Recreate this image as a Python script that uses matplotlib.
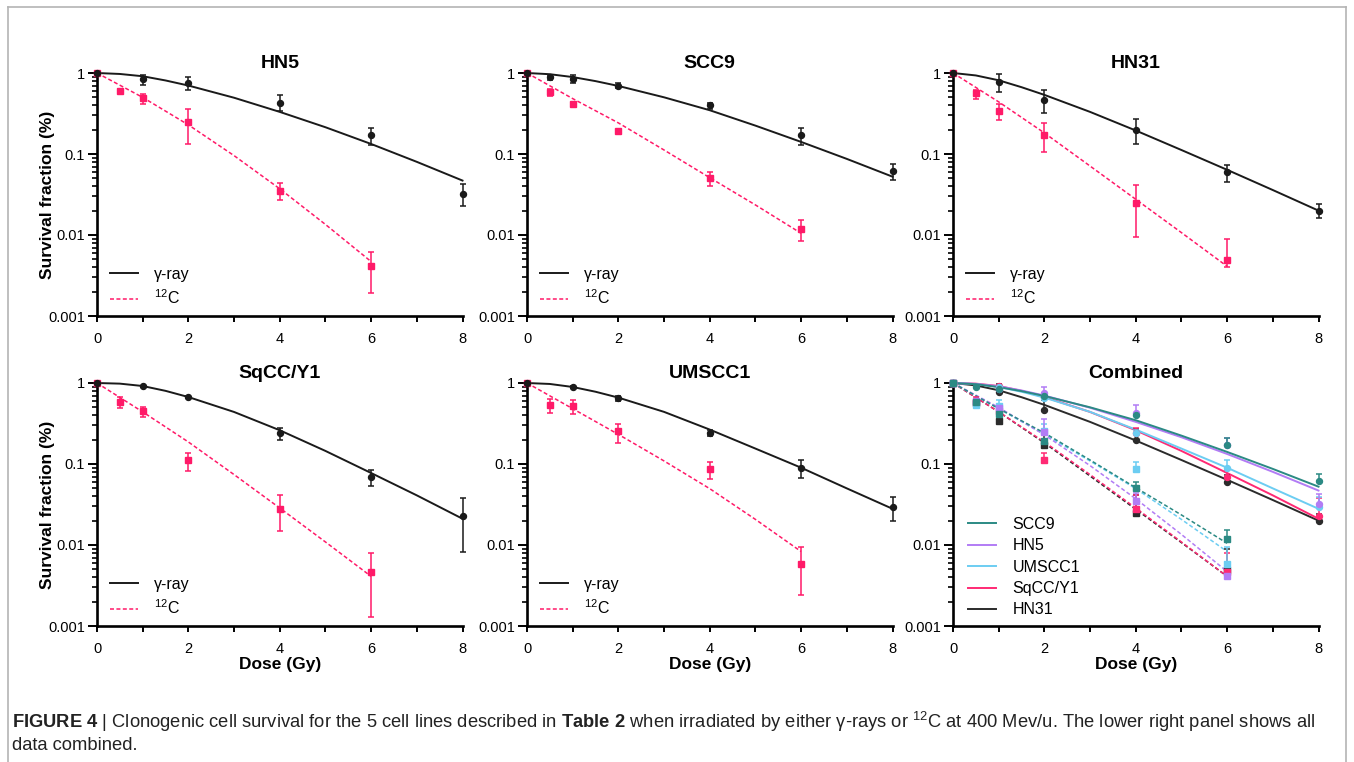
import numpy as np
import matplotlib
matplotlib.use('Agg')
import matplotlib.pyplot as plt
from matplotlib.lines import Line2D
from matplotlib.ticker import LogLocator, NullFormatter, FixedLocator

plt.rcParams['font.family'] = ['Liberation Sans', 'DejaVu Sans']
plt.rcParams['mathtext.fontset'] = 'custom'
plt.rcParams['mathtext.rm'] = 'Liberation Sans'
plt.rcParams['mathtext.bf'] = 'Liberation Sans:bold'
plt.rcParams['mathtext.it'] = 'Liberation Sans:italic'

# ---------------- data ----------------
panel_titles = ['HN5', 'SCC9', 'HN31', 'SqCC/Y1', 'UMSCC1', 'Combined']
legend_order = ['SCC9', 'HN5', 'UMSCC1', 'SqCC/Y1', 'HN31']
draw_order = ['HN31', 'SqCC/Y1', 'UMSCC1', 'HN5', 'SCC9']
x_ticks = [0, 1, 2, 3, 4, 5, 6, 7, 8]
x_tick_labels = ['0', '', '2', '', '4', '', '6', '', '8']
y_ticks = [0.001, 0.01, 0.1, 1]
y_tick_labels = ['0.001', '0.01', '0.1', '1']

gamma_fit_dose = [0, 0.5, 1, 1.5, 2, 3, 4, 5, 6, 7, 8]
carbon_fit_dose = [0, 1, 2, 3, 4, 5, 6]

# HN5
hn5_gamma_dose = [0, 1, 2, 4, 6, 8]
hn5_gamma = [1.0, 0.84, 0.75, 0.43, 0.17, 0.032]
hn5_gamma_lo = [1.0, 0.72, 0.62, 0.34, 0.13, 0.023]
hn5_gamma_hi = [1.0, 0.95, 0.89, 0.53, 0.21, 0.043]
hn5_carbon_dose = [0, 0.5, 1, 2, 4, 6]
hn5_carbon = [1.0, 0.60, 0.49, 0.245, 0.035, 0.0041]
hn5_carbon_lo = [1.0, 0.57, 0.41, 0.133, 0.027, 0.0019]
hn5_carbon_hi = [1.0, 0.63, 0.555, 0.36, 0.044, 0.0062]
hn5_gamma_fit = [1.0, 0.973, 0.912, 0.809, 0.700, 0.495, 0.331, 0.214, 0.133, 0.080, 0.047]
hn5_carbon_fit = [1.0, 0.50, 0.229, 0.0955, 0.0372, 0.0135, 0.0047]

# SCC9
scc9_gamma_dose = [0, 0.5, 1, 2, 4, 6, 8]
scc9_gamma = [1.0, 0.885, 0.85, 0.70, 0.40, 0.17, 0.062]
scc9_gamma_lo = [1.0, 0.82, 0.75, 0.65, 0.36, 0.13, 0.048]
scc9_gamma_hi = [1.0, 0.95, 0.94, 0.75, 0.43, 0.21, 0.076]
scc9_carbon_dose = [0, 0.5, 1, 2, 4, 6]
scc9_carbon = [1.0, 0.58, 0.41, 0.19, 0.050, 0.0119]
scc9_carbon_lo = [1.0, 0.52, 0.40, 0.185, 0.040, 0.0085]
scc9_carbon_hi = [1.0, 0.64, 0.42, 0.195, 0.060, 0.0152]
scc9_gamma_fit = [1.0, 0.966, 0.891, 0.794, 0.692, 0.501, 0.347, 0.224, 0.141, 0.087, 0.0525]
scc9_carbon_fit = [1.0, 0.483, 0.242, 0.112, 0.051, 0.0235, 0.0105]

# HN31
hn31_gamma_dose = [0, 1, 2, 4, 6, 8]
hn31_gamma = [1.0, 0.77, 0.47, 0.20, 0.060, 0.0196]
hn31_gamma_lo = [1.0, 0.58, 0.32, 0.133, 0.045, 0.016]
hn31_gamma_hi = [1.0, 0.96, 0.62, 0.27, 0.074, 0.024]
hn31_carbon_dose = [0, 0.5, 1, 2, 4, 6]
hn31_carbon = [1.0, 0.56, 0.34, 0.174, 0.025, 0.0049]
hn31_carbon_lo = [1.0, 0.48, 0.26, 0.107, 0.0095, 0.0040]
hn31_carbon_hi = [1.0, 0.62, 0.42, 0.24, 0.041, 0.0089]
hn31_gamma_fit = [1.0, 0.933, 0.813, 0.668, 0.537, 0.331, 0.195, 0.112, 0.0638, 0.0359, 0.020]
hn31_carbon_fit = [1.0, 0.44, 0.182, 0.071, 0.0276, 0.0107, 0.0041]

# SqCC/Y1
sqcc_gamma_dose = [0, 1, 2, 4, 6, 8]
sqcc_gamma = [1.0, 0.91, 0.68, 0.24, 0.070, 0.0226]
sqcc_gamma_lo = [1.0, 0.89, 0.66, 0.20, 0.054, 0.0081]
sqcc_gamma_hi = [1.0, 0.93, 0.70, 0.275, 0.085, 0.038]
sqcc_carbon_dose = [0, 0.5, 1, 2, 4, 6]
sqcc_carbon = [1.0, 0.59, 0.45, 0.111, 0.028, 0.0046]
sqcc_carbon_lo = [1.0, 0.49, 0.385, 0.083, 0.0148, 0.0013]
sqcc_carbon_hi = [1.0, 0.68, 0.505, 0.138, 0.041, 0.0080]
sqcc_gamma_fit = [1.0, 0.982, 0.918, 0.80, 0.671, 0.439, 0.261, 0.145, 0.0774, 0.041, 0.0211]
sqcc_carbon_fit = [1.0, 0.44, 0.187, 0.074, 0.0286, 0.0109, 0.0041]

# UMSCC1
umscc1_gamma_dose = [0, 1, 2, 4, 6, 8]
umscc1_gamma = [1.0, 0.89, 0.65, 0.24, 0.090, 0.0295]
umscc1_gamma_lo = [1.0, 0.87, 0.60, 0.22, 0.068, 0.0197]
umscc1_gamma_hi = [1.0, 0.91, 0.70, 0.26, 0.113, 0.039]
umscc1_carbon_dose = [0, 0.5, 1, 2, 4, 6]
umscc1_carbon = [1.0, 0.53, 0.525, 0.253, 0.086, 0.0059]
umscc1_carbon_lo = [1.0, 0.43, 0.41, 0.18, 0.066, 0.0024]
umscc1_carbon_hi = [1.0, 0.63, 0.62, 0.31, 0.106, 0.0094]
umscc1_gamma_fit = [1.0, 0.973, 0.893, 0.78, 0.66, 0.44, 0.266, 0.155, 0.090, 0.050, 0.028]
umscc1_carbon_fit = [1.0, 0.482, 0.232, 0.109, 0.0496, 0.0207, 0.0083]

lines_data = {
    'HN5': (hn5_gamma_dose, hn5_gamma, hn5_gamma_lo, hn5_gamma_hi,
            hn5_carbon_dose, hn5_carbon, hn5_carbon_lo, hn5_carbon_hi,
            hn5_gamma_fit, hn5_carbon_fit),
    'SCC9': (scc9_gamma_dose, scc9_gamma, scc9_gamma_lo, scc9_gamma_hi,
             scc9_carbon_dose, scc9_carbon, scc9_carbon_lo, scc9_carbon_hi,
             scc9_gamma_fit, scc9_carbon_fit),
    'HN31': (hn31_gamma_dose, hn31_gamma, hn31_gamma_lo, hn31_gamma_hi,
             hn31_carbon_dose, hn31_carbon, hn31_carbon_lo, hn31_carbon_hi,
             hn31_gamma_fit, hn31_carbon_fit),
    'SqCC/Y1': (sqcc_gamma_dose, sqcc_gamma, sqcc_gamma_lo, sqcc_gamma_hi,
                sqcc_carbon_dose, sqcc_carbon, sqcc_carbon_lo, sqcc_carbon_hi,
                sqcc_gamma_fit, sqcc_carbon_fit),
    'UMSCC1': (umscc1_gamma_dose, umscc1_gamma, umscc1_gamma_lo, umscc1_gamma_hi,
               umscc1_carbon_dose, umscc1_carbon, umscc1_carbon_lo, umscc1_carbon_hi,
               umscc1_gamma_fit, umscc1_carbon_fit),
}

combined_colors = {'SCC9': '#2b8a84', 'HN5': '#b27cf5', 'UMSCC1': '#6ccdf2',
                   'SqCC/Y1': '#ff2a74', 'HN31': '#2b2b2b'}
gamma_color = '#1a1a1a'
carbon_color = '#ff1a68'

# ---------------- layout ----------------
W, H = 1354, 762
fig = plt.figure(figsize=(W / 100, H / 100), dpi=100)
fig.patch.set_facecolor('white')

col_left = [97, 527, 953]
ax_w = 365.5
row_top = [73, 383]
ax_h = 243

DASH = (0, (2.6, 1.6))


def make_ax(r, c):
    l = col_left[c] / W
    b = 1 - (row_top[r] + ax_h) / H
    ax = fig.add_axes([l, b, ax_w / W, ax_h / H])
    ax.set_yscale('log')
    ax.set_xlim(0, 8)
    ax.set_ylim(0.001, 1)
    ax.spines['top'].set_visible(False)
    ax.spines['right'].set_visible(False)
    for s in ('left', 'bottom'):
        ax.spines[s].set_linewidth(1.9)
    ax.xaxis.set_major_locator(FixedLocator(x_ticks))
    ax.set_xticklabels(x_tick_labels)
    ax.yaxis.set_major_locator(FixedLocator(y_ticks))
    ax.set_yticklabels(y_tick_labels)
    ax.yaxis.set_minor_locator(LogLocator(base=10, subs=np.arange(2, 10)))
    ax.yaxis.set_minor_formatter(NullFormatter())
    ax.tick_params(axis='y', which='major', length=6.5, width=1.4, labelsize=10.5, pad=2)
    ax.tick_params(axis='y', which='minor', length=3.5, width=1.2)
    ax.tick_params(axis='x', which='major', length=4.5, width=1.4, labelsize=10.5, pad=7)
    ax.set_facecolor('none')
    return ax


def errpts(ax, dose, sf, lo, hi, marker, color, ms, z, upper_only=False):
    sf = np.asarray(sf)
    low = np.zeros_like(sf) if upper_only else sf - np.asarray(lo)
    yerr = [low, np.asarray(hi) - sf]
    cont = ax.errorbar(dose, sf, yerr=yerr, fmt=marker, ms=ms, color=color,
                       mec=color, ecolor=color, elinewidth=1.1, capsize=2.2,
                       capthick=1.1, zorder=z)
    for a in cont.get_children():
        a.set_clip_on(False)


single = ['HN5', 'SCC9', 'HN31', 'SqCC/Y1', 'UMSCC1']
positions = [(0, 0), (0, 1), (0, 2), (1, 0), (1, 1)]
for name, (r, c) in zip(single, positions):
    ax = make_ax(r, c)
    (gd, g, glo, ghi, cd, cv, clo, chi, gfit, cfit) = lines_data[name]
    ax.plot(gamma_fit_dose, gfit, color=gamma_color, lw=1.4, zorder=2, clip_on=False)
    ax.plot(carbon_fit_dose, cfit, color=carbon_color, lw=1.1, ls=DASH, zorder=2,
            clip_on=False)
    errpts(ax, cd, cv, clo, chi, 's', carbon_color, 4.8, 3)
    errpts(ax, gd, g, glo, ghi, 'o', gamma_color, 4.3, 4)
    h = [Line2D([], [], color=gamma_color, lw=1.4),
         Line2D([], [], color=carbon_color, lw=1.1, ls=DASH)]
    ax.legend(h, ['γ-ray', '$^{12}$C'], loc='lower left',
              bbox_to_anchor=(0.035, 0.035), frameon=False, fontsize=11.5,
              handlelength=1.75, handletextpad=1.0, labelspacing=0.45,
              borderpad=0, borderaxespad=0)
    ax.set_title(name, fontsize=14, fontweight='bold', pad=3.5)
    if c == 0:
        ax.set_ylabel('Survival fraction (%)', fontsize=12.5, fontweight='bold',
                      labelpad=-4.5)
    if r == 1:
        ax.set_xlabel('Dose (Gy)', fontsize=12.5, fontweight='bold', labelpad=0.5)

# Combined panel
ax = make_ax(1, 2)
for name in draw_order:
    (gd, g, glo, ghi, cd, cv, clo, chi, gfit, cfit) = lines_data[name]
    col = combined_colors[name]
    ax.plot(gamma_fit_dose, gfit, color=col, lw=1.4, zorder=2, clip_on=False)
    ax.plot(carbon_fit_dose, cfit, color=col, lw=1.1, ls=DASH, zorder=2, clip_on=False)
for name in draw_order:
    (gd, g, glo, ghi, cd, cv, clo, chi, gfit, cfit) = lines_data[name]
    col = combined_colors[name]
    errpts(ax, gd, g, glo, ghi, 'o', col, 4.3, 3, upper_only=True)
    errpts(ax, cd, cv, clo, chi, 's', col, 4.8, 3, upper_only=True)
h = [Line2D([], [], color=combined_colors[n], lw=1.4) for n in legend_order]
ax.legend(h, legend_order, loc='lower left', bbox_to_anchor=(0.04, 0.035),
          frameon=False, fontsize=11.5, handlelength=1.75, handletextpad=1.05,
          labelspacing=0.4, borderpad=0, borderaxespad=0)
ax.set_title('Combined', fontsize=14, fontweight='bold', pad=3.5)
ax.set_xlabel('Dose (Gy)', fontsize=12.5, fontweight='bold', labelpad=0.5)

# Border around figure area
bc = '#b4b4b4'
for (x0, y0, x1, y1) in [(8, 7, 1346, 7), (8, 7, 8, 762), (1346, 7, 1346, 762)]:
    fig.add_artist(Line2D([x0 / W, x1 / W], [1 - y0 / H, 1 - y1 / H],
                          transform=fig.transFigure, color=bc, lw=1.2))

# Caption
cap1 = ('$\\mathbf{FIGURE\\ 4}$ | Clonogenic cell survival for the 5 cell lines described in '
        '$\\mathbf{Table\\ 2}$ when irradiated by either γ-rays or $^{12}$C at 400 Mev/u. '
        'The lower right panel shows all')
cap2 = 'data combined.'
fig.text(12 / W, 1 - 722 / H, cap1, fontsize=13.2, va='center', ha='left', color='#222222')
fig.text(12 / W, 1 - 746 / H, cap2, fontsize=13.2, va='center', ha='left', color='#222222')

fig.savefig('out.png', dpi=100)
